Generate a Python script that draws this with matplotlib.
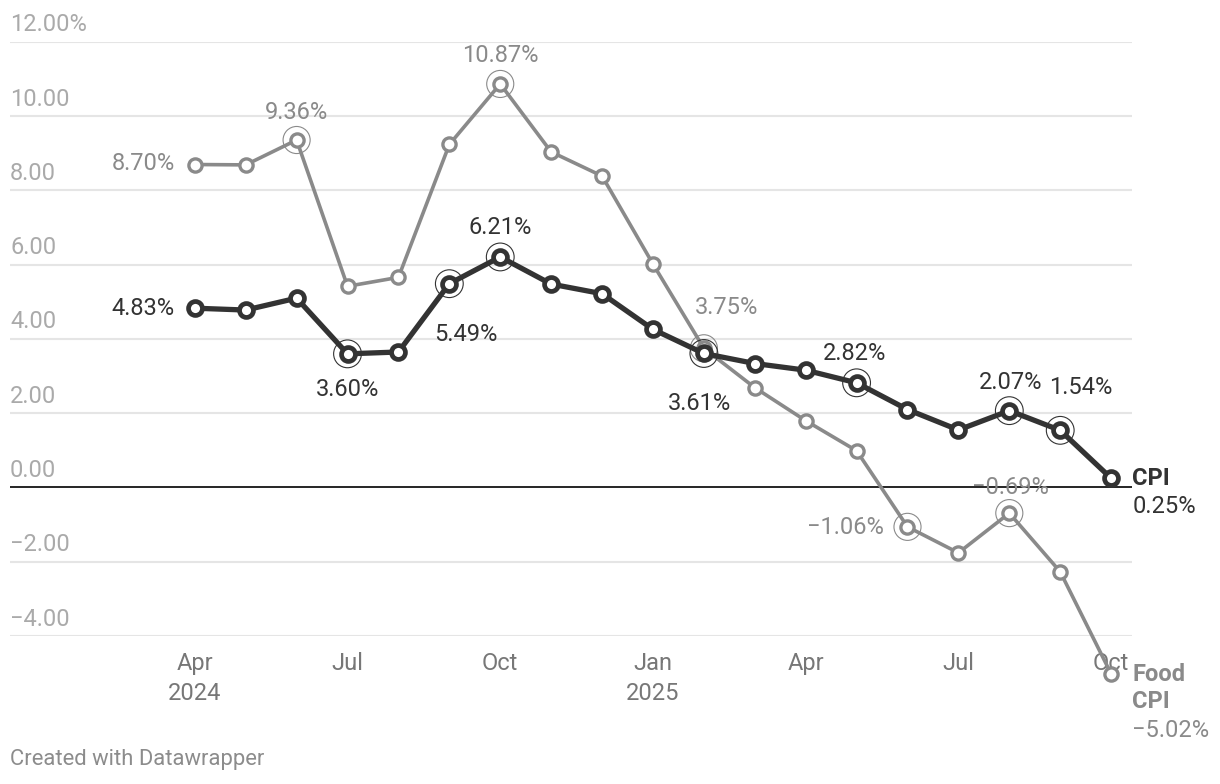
import matplotlib.pyplot as plt

plt.rcParams['font.family'] = ['Roboto', 'DejaVu Sans']

# --- data ---
months = ['Apr', 'May', 'Jun', 'Jul', 'Aug', 'Sep', 'Oct', 'Nov', 'Dec',
          'Jan', 'Feb', 'Mar', 'Apr', 'May', 'Jun', 'Jul', 'Aug', 'Sep', 'Oct']
cpi = [4.83, 4.78, 5.10, 3.60, 3.65, 5.49, 6.21, 5.48, 5.22,
       4.26, 3.61, 3.34, 3.16, 2.82, 2.10, 1.55, 2.07, 1.54, 0.25]
food_cpi = [8.70, 8.69, 9.36, 5.42, 5.66, 9.24, 10.87, 9.04, 8.39,
            6.02, 3.75, 2.69, 1.80, 0.99, -1.06, -1.76, -0.69, -2.27, -5.02]
y_ticks = [-4, -2, 0, 2, 4, 6, 8, 10, 12]
x_tick_idx = [0, 3, 6, 9, 12, 15, 18]
x_tick_labels = ['Apr\n2024', 'Jul', 'Oct', 'Jan\n2025', 'Apr', 'Jul', 'Oct']

# highlighted points (ringed)
cpi_rings = [3, 5, 6, 10, 13, 16, 17]
food_rings = [2, 6, 10, 14, 16]

# value labels: (index, dx px, dy px, ha)
cpi_labels = [(0, -20, 0, 'right'), (3, 0, -36, 'center'), (5, 17, -51, 'center'),
              (6, 0, 29, 'center'), (10, -4, -50, 'center'), (13, -2, 29, 'center'),
              (16, 1, 28, 'center'), (17, 21, 43, 'center')]
food_labels = [(0, -20, 1, 'right'), (2, 0, 28, 'center'), (6, 0, 28, 'center'),
               (10, 23, 41, 'center'), (14, -24, -1, 'right'), (16, 1, 26, 'center')]

CPI_COL = '#333333'
FOOD_COL = '#8a8a8a'
GRID_COL = '#e5e5e5'
TICK_COL = '#aaaaaa'
AX_COL = '#777777'
FS = 17

fig = plt.figure(figsize=(12.2, 7.84), dpi=100)
ax = fig.add_axes([10 / 1220, 1 - 636 / 784, 1122 / 1220, 594 / 784])
ax.set_xlim(-3.63, 18.41)
ax.set_ylim(-4, 12)
for s in ax.spines.values():
    s.set_visible(False)
ax.set_yticks([])

for v in y_ticks:
    if v == 0:
        ax.axhline(v, color='#000000', lw=1.2, zorder=2)
    else:
        ax.axhline(v, color=GRID_COL, lw=1.5, zorder=0)
    if v == 12:
        txt = '12.00%'
    else:
        txt = f'{v:.2f}'.replace('-', '\u2212')
    ax.annotate(txt, (0, v), xycoords=('axes fraction', 'data'),
                xytext=(0, 17 * 0.72), textcoords='offset points',
                ha='left', va='center', fontsize=FS, color=TICK_COL)

ax.set_xticks(x_tick_idx)
ax.set_xticklabels(x_tick_labels, fontsize=FS, color=AX_COL, linespacing=1.4)
ax.tick_params(axis='x', length=0, pad=11.5)

x = list(range(len(months)))
ax.plot(x, food_cpi, color=FOOD_COL, lw=2.6, marker='o', ms=9.5,
        mfc='white', mec=FOOD_COL, mew=2.4, zorder=3, clip_on=False)
ax.plot(x, cpi, color=CPI_COL, lw=3.8, marker='o', ms=10,
        mfc='white', mec=CPI_COL, mew=3.4, zorder=4, clip_on=False)

ax.scatter([x[i] for i in food_rings], [food_cpi[i] for i in food_rings], s=380,
           facecolors='none', edgecolors=FOOD_COL, linewidths=0.8, zorder=3)
ax.scatter([x[i] for i in cpi_rings], [cpi[i] for i in cpi_rings], s=400,
           facecolors='none', edgecolors=CPI_COL, linewidths=0.8, zorder=4)

def pct(v):
    return f'{v:.2f}%'.replace('-', '\u2212')

for i, dx, dy, ha in cpi_labels:
    ax.annotate(pct(cpi[i]), (x[i], cpi[i]), xytext=(dx * 0.72, dy * 0.72),
                textcoords='offset points', ha=ha, va='center',
                fontsize=FS, color=CPI_COL, zorder=6, annotation_clip=False)
for i, dx, dy, ha in food_labels:
    ax.annotate(pct(food_cpi[i]), (x[i], food_cpi[i]), xytext=(dx * 0.72, dy * 0.72),
                textcoords='offset points', ha=ha, va='center',
                fontsize=FS, color=FOOD_COL, zorder=6, annotation_clip=False)

# end labels
ax.annotate('CPI', (x[-1], cpi[-1]), xytext=(21 * 0.72, 0),
            textcoords='offset points', ha='left', va='center', fontsize=FS,
            fontweight='bold', color=CPI_COL, annotation_clip=False)
ax.annotate(pct(cpi[-1]), (x[-1], cpi[-1]), xytext=(21 * 0.72, -28 * 0.72),
            textcoords='offset points', ha='left', va='center', fontsize=FS,
            color=CPI_COL, annotation_clip=False)
ax.annotate('Food', (x[-1], food_cpi[-1]), xytext=(21 * 0.72, -1 * 0.72),
            textcoords='offset points', ha='left', va='center', fontsize=FS,
            fontweight='bold', color=FOOD_COL, annotation_clip=False)
ax.annotate('CPI', (x[-1], food_cpi[-1]), xytext=(21 * 0.72, -28 * 0.72),
            textcoords='offset points', ha='left', va='center', fontsize=FS,
            fontweight='bold', color=FOOD_COL, annotation_clip=False)
ax.annotate(pct(food_cpi[-1]), (x[-1], food_cpi[-1]), xytext=(21 * 0.72, -57 * 0.72),
            textcoords='offset points', ha='left', va='center', fontsize=FS,
            color=FOOD_COL, annotation_clip=False)

fig.text(10 / 1220, 1 - 759 / 784, 'Created with Datawrapper', ha='left',
         va='center', fontsize=15.8, color='#8c8c8c')

fig.savefig('out.png', dpi=100)
